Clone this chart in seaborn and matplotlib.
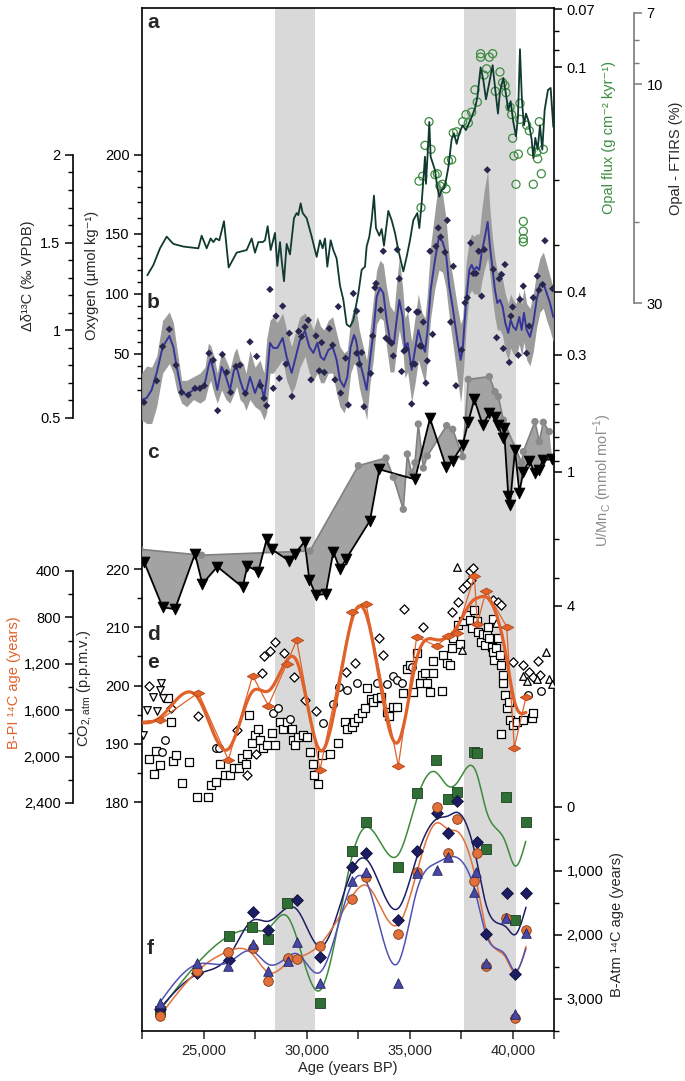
import numpy as np
import matplotlib
matplotlib.use("Agg")
import matplotlib.pyplot as plt
import seaborn as sns
from matplotlib.ticker import FixedLocator, FixedFormatter, NullFormatter
from matplotlib.path import Path

# ---------------- data ----------------
# a) Opal - FTIRS (%)
ftirs_age = [22259,22550,22874,23197,23521,24006,24735,24896,25139,25333,25463,25592,25754,25980,26207,26595,26757,27081,27324,27485,27647,27857,27971,28100,28246,28456,28569,28699,28780,28893,29022,29184,29378,29508,29589,29702,29799,29993,30236,30479,30640,30770,30883,30996,31158,31287,31449,31611,31773,31935,32096,32258,32501,32663,32825,32905,33035,33148,33261,33358,33520,33633,33747,33957,34119,34281,34443,34685,34847,35009,35171,35365,35462,35575,35656,35737,35785,35866,35947,36012,36222,36336,36433,36546,36659,36756,36870,37031,37145,37274,37403,37565,37727,38002,38164,38277,38439,38569,38698,38827,39021,39151,39280,39377,39539,39636,39782,39895,40024,40154,40251,40348,40445,40542,40639,40752,40914,40995,41092,41205,41319,41432,41545,41707,41837,41966]
ftirs_val = [26.1,24.8,22.8,21.5,22.3,22.6,22.8,21.4,22.8,21.7,22.1,21.7,21.9,19.9,25.1,23.3,23.2,23.0,21.7,23.3,22.1,22.1,21.9,20.4,23.0,21.1,24.9,22.1,24.2,26.9,22.3,23.5,19.6,19.1,19.3,18.2,19.1,19.6,21.5,23.8,21.9,22.8,21.7,25.0,21.9,23.0,24.0,27.5,29.5,33.4,33.8,32.7,28.6,25.4,25.0,22.6,21.5,19.8,17.5,20.6,21.4,20.7,22.5,18.9,19.8,21.1,23.0,25.6,23.8,21.9,19.8,19.1,20.6,18.2,16.2,14.4,16.5,14.2,12.1,14.4,15.4,16.8,17.6,17.0,16.9,16.2,15.2,13.2,12.8,13.5,12.8,12.3,12.6,11.8,11.3,10.7,9.2,9.8,10.8,10.1,9.1,10.3,11.6,10.4,9.7,10.3,11.4,10.9,12.1,13.0,11.8,8.4,10.9,12.3,11.6,12.0,13.2,14.5,13.1,13.9,12.3,13.9,11.4,10.3,10.2,12.4]

# a) Opal flux (g cm-2 kyr-1)
opal_age = [35446,35624,35543,35737,35931,36028,36222,36336,36465,36594,36756,36870,37031,37112,37274,37565,37727,37840,38002,38164,38277,38439,38439,38730,38860,39021,38601,39377,39151,39507,39620,39669,39863,39944,39993,40057,40268,40348,40348,40154,40510,40510,40510,40510,40672,40801,40914,41157,41205,41286,41384,40995,41481]
opal_flux = [0.202,0.196,0.238,0.162,0.140,0.166,0.194,0.193,0.208,0.206,0.212,0.178,0.177,0.150,0.149,0.140,0.134,0.141,0.132,0.115,0.124,0.092,0.094,0.101,0.094,0.092,0.105,0.103,0.116,0.110,0.112,0.117,0.128,0.134,0.155,0.173,0.171,0.125,0.138,0.206,0.259,0.275,0.288,0.294,0.143,0.148,0.168,0.169,0.176,0.140,0.193,0.206,0.166]

# b) Oxygen (umol/kg) with envelope
o2_age = [21984,22227,22469,22712,23003,23327,23521,23683,23926,24168,24492,24815,25058,25220,25333,25495,25657,25867,26077,26272,26466,26595,26757,26919,27048,27242,27485,27728,27922,28051,28213,28375,28569,28828,29022,29265,29427,29669,29912,30123,30317,30511,30673,30835,31045,31255,31449,31611,31805,31967,32129,32291,
          32388,32549,32711,32905,33067,33229,33391,33553,33714,33876,34038,34232,34362,34491,34653,34766,34896,35090,35252,35413,35575,35737,35850,36012,36222,36417,36594,36756,36918,37080,37306,37468,37565,37727,37889,38002,38115,38245,38374,38488,38617,38779,38892,39021,39135,39248,39377,39507,39636,39782,39895,40024,40154,40316,40429,40542,40672,40834,40995,41157,41319,41481,41643,41804,41966]
o2_val = [11.7,13.3,20,34.2,55.8,65,55.8,39.2,18.3,15.8,20,20.8,25.8,39.2,45.8,34.2,20,39.2,30.8,20,36.7,39.2,28.3,20,17.5,30.8,17.5,28.3,13.3,28.3,59.2,55,55,63.3,47.5,34.2,45,61.7,69.2,55.8,50.8,59.2,47.5,45,53.3,55.8,45,28.3,22.5,30.8,55.8,65.8,
          61.7,45,34.2,20,45,67.5,97.5,105,100.8,78.3,61.7,59.2,78.3,95,80.8,55.8,59.2,36.7,53.3,70,59.2,51.7,67.5,103.3,128.3,147.5,143.3,134.2,105.8,89.2,61.7,45,53.3,92.5,120,124.2,120,122.5,120,134.2,145,157.6,139.2,120,103.3,92.5,95,89.2,75.8,67.5,78.3,72.5,70,80.8,70,84.2,70,64.2,75.8,95,107.5,109.2,100.8,92.5,80.8]
o2_hi = [34,40,39,48,78,85,76,56,28,28,31,34,39,59,57,48,34,53,45,37,51,55,45,42,34,53,39,45,34,62,78,81,76,84,70,56,67,81,84,78,70,81,73,70,78,81,67,56,51,53,78,89,
         88,70,58,45,70,95,120,128,125,105,90,85,110,130,105,80,85,60,80,100,85,80,100,140,165,185,175,160,130,115,90,75,80,125,145,150,148,150,150,165,178,190,165,145,130,118,120,112,100,92,100,95,92,102,92,105,92,88,100,118,130,135,125,115,105]
o2_lo = [-5,-8,-8,6,34,42,34,20,9,6,12,9,12,23,28,17,9,20,12,9,17,23,12,9,3,12,6,3,-5,1,34,34,39,45,28,17,23,39,48,34,28,34,26,26,34,34,17,6,1,9,34,42,
         40,22,10,-5,25,45,75,80,78,55,35,35,55,70,55,30,35,10,25,45,35,25,45,80,105,120,118,105,80,60,30,10,25,70,100,103,100,100,98,110,120,130,115,95,80,70,70,65,52,45,55,50,48,58,48,60,45,40,52,72,85,88,78,70,60]

# b) Delta d13C (permil VPDB)
d13_age = [22097,22712,23003,23327,23650,23926,24249,24573,24815,25026,25252,25463,25673,25899,26110,26304,26563,26757,27016,27242,27566,27760,27922,28051,28213,28375,28505,28666,28828,28990,29152,29281,29605,29750,29912,30074,30204,30446,30608,30721,30851,31093,31255,31368,31530,31643,31886,32016,32258,32420,
           32420,32549,32663,32776,33100,33197,33310,33358,33585,33714,33844,34006,34119,34200,34394,34491,34604,34718,34815,34928,35090,35138,35252,35332,35413,35494,35575,35656,35785,35850,35980,36109,36271,36384,36498,36708,36821,36983,37112,37242,37517,37679,37792,37954,38083,38213,38342,38488,38617,38763,39054,39216,39345,39458,39620,39539,39830,39911,39992,40268,40348,40510,40672,40801,40995,41189,41270,41448,41562,41934]
d13_val = [0.589,0.712,0.907,1.006,0.801,0.646,0.631,0.669,0.669,0.684,0.869,0.830,0.542,0.862,0.760,0.646,0.794,0.801,0.640,0.934,0.851,0.684,0.612,0.570,1.233,0.669,1.081,0.726,1.138,0.807,0.983,0.623,0.994,0.964,1.019,1.058,0.718,0.968,0.769,0.930,0.760,1.010,0.915,0.718,1.135,0.642,0.841,0.574,1.210,1.110,
           0.869,0.807,0.873,0.564,0.754,0.968,1.243,1.267,1.115,1.451,0.955,0.939,0.926,0.854,1.460,1.294,0.765,0.882,0.892,1.119,0.580,0.807,0.807,1.104,1.104,0.911,0.909,1.047,0.699,0.826,1.451,0.977,1.479,1.584,1.532,1.445,1.627,1.047,1.365,0.684,0.888,1.157,1.186,1.498,1.324,1.324,1.451,1.195,1.460,1.915,1.347,0.958,1.294,1.318,1.375,0.896,0.817,1.081,1.133,0.858,1.176,1.252,0.869,1.024,1.186,1.309,1.229,1.261,1.511,1.237]

# c) U/Mn_C (mmol/mol): grey circles and black triangles
umn_grey_age = [21900,24896,30155,32501,33844,34200,34685,34879,35090,35252,35413,35656,35850,36789,37080,37566,37840,38860,39135,39297,39539,40430,40510,41076,41286,41481,41772]
umn_grey_val = [2.23,2.37,2.27,0.941,0.869,1.06,1.476,0.834,1.018,0.912,0.612,0.964,0.851,0.622,0.646,0.857,0.386,0.375,0.438,0.461,0.587,0.912,0.814,0.597,0.734,0.601,0.662]
umn_black_age = [22097,23003,23602,24573,24929,25657,26886,27113,27647,28051,28294,29135,29427,29896,30123,30446,30915,31287,31611,31902,33067,33520,35252,35979,36756,37080,37566,37840,38132,38537,38860,39135,39297,39507,39572,39782,39863,40106,40316,40510,40801,41076,41286,41448,41918]
umn_black_val = [2.536,4.06,4.14,2.34,3.19,2.67,3.30,2.65,2.81,2.01,2.23,2.51,2.33,2.06,3.06,3.58,3.54,2.29,2.74,2.47,1.66,0.977,1.083,0.577,0.950,0.894,0.760,0.597,0.474,0.618,0.548,0.567,0.618,0.709,0.640,1.287,1.41,0.800,1.243,1.001,0.894,1.018,0.984,0.887,0.881]

# d) B-PI 14C age (years)
bpi_age = [21700,22874,24735,26191,27372,28132,29022,29508,30640,32210,32873,34443,35333,36303,36870,37274,38132,38277,38698,39701,40073,40639]
bpi_val = [1700,1684,1449,2029,1302,1561,1202,995,2116,756,684,2081,972,1047,958,932,443,857,570,880,1923,1489]

# e) CO2,atm (ppmv) - several records
co2_sq_age = [22356,22583,22680,22874,23278,23392,23489,23650,23926,24298,24686,25188,25349,25592,25786,26029,26272,26466,26725,26838,27048,27081,27210,27323,27485,27647,27728,27890,28052,28294,28456,28699,28861,29022,29265,29346,29427,29589,29831,29993,30155,30317,30349,30559,30721,31126,31530,31854,31935,32177,32291,32501,32663,32825,32906,33100,33229,33423,33585,33876,34006,34200,34362,34685,34847,35009,35171,35333,35494,35575,35737,35818,35980,36141,36109,36546,36627,36789,36950,37063,37112,37355,37436,37566,37759,37921,38002,38116,38245,38326,38439,38569,38650,38731,38860,38973,39022,39087,39184,39297,39378,39410,39507,39539,39620,39701,39830,39863,39992,40219,40510,40914,40963,39410,39054,38812]
co2_sq_val = [187.4,184.9,188.8,186.4,197.8,193.8,187.0,188.1,183.3,186.8,180.9,180.9,182.9,183.5,186.6,184.7,184.6,185.8,185.8,187.5,186.5,188.2,195.0,190.2,191.5,192.6,190.6,189.2,189.8,191.8,189.8,193.8,192.6,193.8,192.6,190.6,189.8,191.2,191.5,191.2,188.6,186.6,184.6,183.1,188.1,188.2,190.1,193.8,192.6,192.9,193.8,194.5,195.2,196.1,199.5,197.7,197.2,197.9,198.1,195.5,194.8,196.4,196.4,198.7,202.9,203.5,198.9,205.5,200.4,201.8,202.1,200.4,198.9,202.1,204.2,199.1,205.2,203.8,203.5,206.4,208.1,210.4,207.2,211.0,212.1,211.2,209.8,213.0,211.0,209.2,207.5,208.9,206.9,208.7,208.1,206.7,205.8,204.4,206.4,208.1,205.2,203.5,200.4,201.8,198.4,196.1,197.2,194.1,193.2,193.8,194.1,194.5,195.2,191.6,211.5,210.1]
co2_ci_age = [23117,22955,25592,25754,28343,28586,29184,30770,31287,31563,31935,32420,33423,33876,34200,34362,34637,35122,40720,41367]
co2_ci_val = [190.6,188.6,189.2,189.3,195.2,196.2,194.2,193.6,196.9,199.8,199.2,200.5,200.4,200.2,201.7,200.9,200.5,203.1,198.4,199.1]
co2_di_age = [22356,23392,24735,26628,27081,27534,27809,27922,28213,28456,28893,29378,29912,30430,31886,32339,33520,33682,34734,35656,37031,37355,37598,37759,37921,38051,37953,39054,39297,39410,39992,40478,40801,41238,40963,41318]
co2_di_val = [199.9,196.1,194.8,192.4,184.6,188.2,202.1,205.1,205.9,207.5,205.6,201.5,197.6,195.6,202.4,203.8,208.2,205.3,213.1,210.1,212.7,214.4,216.7,217.4,219.7,220.2,218.1,214.7,214.3,213.8,204.0,203.5,202.4,204.2,201.5,201.8]
co2_tu_age = [37274,39184,37517,40510,41157,41610,41772,41886,40704]
co2_tu_val = [220.4,210.7,206.1,201.7,201.2,205.7,201.2,200.2,200.8]
co2_td_age = [22906,22874,23003,22550,22227,22712,22032]
co2_td_val = [200.4,199.2,197.8,198.1,195.8,195.6,191.5]

# f) B-Atm 14C age (years), four records
batm_sq_age = [22870,26200,27360,28130,29050,30635,32200,32875,34445,35345,36271,36855,37300,38115,38285,38715,39655,40095,40627]
batm_sq_val = [3180,2020,1870,2055,1500,3057,680,230,933,-216,-734,-130,-229,-864,-839,661,-161,1766,230]
batm_di_age = [22870,24690,26240,27370,28130,29520,30660,32210,32873,34443,35333,36303,36870,37307,38277,38683,39703,40106,40639]
batm_di_val = [3150,2590,2390,1636,1922,1453,2345,938,714,1767,688,89,400,-94,552,1984,1349,2610,1349]
batm_ci_age = [22874,24686,26191,27372,28132,29071,29508,30640,32210,32873,34443,35333,36303,36870,37307,38132,38277,38698,39669,40106,40639]
batm_ci_val = [3265,2562,2271,2208,2713,2364,2380,2172,1443,1088,1984,1010,7,714,193,1151,714,2484,1729,3302,1922]
batm_tr_age = [22874,24686,26191,27372,28132,29071,29508,30640,32210,32873,34443,35333,36303,36870,38132,38213,38698,39669,40106,40639]
batm_tr_val = [3057,2432,2484,2140,2570,2401,2104,2745,1151,1010,2745,1036,984,776,1323,1010,2432,1740,3234,1974]

# shaded intervals (years BP)
band_starts = [28480, 37650]
band_ends = [30420, 40150]

# ---------------- helpers ----------------
def smooth(x, y, lam, n=400):
    """Penalised (spline-like) smoothing of the points on a fine grid."""
    x = np.asarray(x, float)
    y = np.asarray(y, float)
    g = np.linspace(x.min(), x.max(), n)
    h = g[1] - g[0]
    idx = np.clip(((x - g[0]) // h).astype(int), 0, n - 2)
    t = (x - g[idx]) / h
    A = np.zeros((len(x), n))
    A[np.arange(len(x)), idx] = 1 - t
    A[np.arange(len(x)), idx + 1] = t
    D = np.diff(np.eye(n), 2, axis=0)
    f = np.linalg.solve(A.T @ A + lam * D.T @ D, A.T @ y)
    return g, f

sns.set_style("white")
plt.rcParams["font.family"] = ["Liberation Sans", "DejaVu Sans"]
plt.rcParams["mathtext.fontset"] = "custom"
plt.rcParams["mathtext.rm"] = "Liberation Sans"

W, H = 685, 1081
L, R, T, B = 142, 554, 8, 1031
fig = plt.figure(figsize=(W / 100, H / 100), dpi=100)
ax = fig.add_axes([L / W, 1 - B / H, (R - L) / W, (B - T) / H])
ax.set_ylim(0, 1)
ax.set_yticks([])
for s in ax.spines.values():
    s.set_visible(True)
    s.set_color("black")
    s.set_linewidth(1.2)
for a0, a1 in zip(band_starts, band_ends):
    ax.axvspan(a0, a1, color="#d9d9d9", lw=0, zorder=0)


def make_twin(side, pos, bounds, major, labels, minor, scale=None, ylim=None,
              spine_color="black"):
    t = ax.twinx()
    for s in t.spines.values():
        s.set_visible(False)
    if scale is not None:
        if isinstance(scale, tuple):
            t.set_yscale("function", functions=scale)
        else:
            t.set_yscale(scale)
    t.set_ylim(*ylim)
    if side == "left":
        t.yaxis.tick_left()
    else:
        t.yaxis.tick_right()
    if pos is not None:
        sp = t.spines[side]
        sp.set_visible(True)
        sp.set_position(("axes", pos))
        sp.set_bounds(*bounds)
        sp.set_color(spine_color)
        sp.set_linewidth(1.2)
    t.yaxis.set_major_locator(FixedLocator(major))
    t.yaxis.set_major_formatter(FixedFormatter(labels))
    t.yaxis.set_minor_locator(FixedLocator(minor))
    t.yaxis.set_minor_formatter(NullFormatter())
    t.tick_params(axis="y", which="major", length=6, width=1.1, labelsize=10.5,
                  pad=3, color=spine_color, labelcolor="black")
    t.tick_params(axis="y", which="minor", length=3.5, width=1.0, color=spine_color)
    return t

off_left = (73 - L) / (R - L)
off_right = (634 - L) / (R - L)

# c) U/Mn  (inverted log, right spine)
t_umn = make_twin("right", None, None, [0.3, 1, 4], ["0.3", "1", "4"],
                  [0.4, 0.5, 0.6, 0.7, 0.8, 0.9, 2, 3], scale="log", ylim=(322.5, 0.00834))
t_umn.fill(np.r_[umn_grey_age, umn_black_age[::-1]], np.r_[umn_grey_val, umn_black_val[::-1]],
           color="#a3a3a3", lw=0, zorder=1)
sns.lineplot(x=umn_grey_age, y=umn_grey_val, ax=t_umn, color="#808080", lw=1.2,
             sort=False, estimator=None, zorder=2)
sns.lineplot(x=umn_black_age, y=umn_black_val, ax=t_umn, color="black", lw=1.3,
             sort=False, estimator=None, zorder=3)
sns.scatterplot(x=umn_grey_age, y=umn_grey_val, ax=t_umn, color="#8a8a8a", s=28,
                edgecolor="none", zorder=4)
sns.scatterplot(x=umn_black_age, y=umn_black_val, ax=t_umn, marker="v", color="black",
                s=60, edgecolor="black", zorder=5)

# e) CO2 (left main spine)
t_co2 = make_twin("left", None, None, [180, 190, 200, 210, 220],
                  ["180", "190", "200", "210", "220"], [185, 195, 205, 215],
                  ylim=(140.7, 316.3))
for xa, ya, mk in [(co2_sq_age, co2_sq_val, "s"), (co2_ci_age, co2_ci_val, "o"),
                   (co2_di_age, co2_di_val, "D"), (co2_tu_age, co2_tu_val, "^"),
                   (co2_td_age, co2_td_val, "v")]:
    sns.scatterplot(x=xa, y=ya, ax=t_co2, marker=mk, s=30 if mk != "D" else 22,
                    facecolor="white", edgecolor="black", linewidth=0.9, zorder=3)

# d) B-PI 14C age (inverted linear, outer left spine)
t_bpi = make_twin("left", off_left, (400, 2400), [400, 800, 1200, 1600, 2000, 2400],
                  ["400", "800", "1,200", "1,600", "2,000", "2,400"],
                  [600, 1000, 1400, 1800, 2200], ylim=(4366, -4453))
orange = "#e0622a"
sns.lineplot(x=bpi_age, y=bpi_val, ax=t_bpi, color=orange, lw=0.9, sort=False,
             estimator=None, zorder=3)
gx, gy = smooth(bpi_age, bpi_val, 250)
sns.lineplot(x=gx, y=gy, ax=t_bpi, color=orange, lw=2.3, sort=False, estimator=None, zorder=4)
diamond = Path([(-1, 0), (0, 0.55), (1, 0), (0, -0.55), (-1, 0)], closed=True)
sns.scatterplot(x=bpi_age, y=bpi_val, ax=t_bpi, marker=diamond, s=80, color=orange,
                edgecolor="#b5471a", linewidth=0.6, zorder=5)

# f) B-Atm 14C age (inverted linear, right spine)
t_batm = make_twin("right", None, None, [0, 1000, 2000, 3000],
                   ["0", "1,000", "2,000", "3,000"], [500, 1500, 2500, 3500],
                   ylim=(3500, -12484))
series_f = [
    (batm_sq_age, batm_sq_val, "s", "#2f6f35", "#1d401f", "#3d8a3d"),
    (batm_di_age, batm_di_val, "D", "#1d1d63", "#0f0f33", "#1d1d63"),
    (batm_ci_age, batm_ci_val, "o", "#e2703a", "#7a3a15", "#e2703a"),
    (batm_tr_age, batm_tr_val, "^", "#4747a8", "#25255e", "#5151b5"),
]
for xa, ya, mk, fc, ec, lc in series_f:
    sx, sy = smooth(xa, ya, 350)
    sns.lineplot(x=sx, y=sy, ax=t_batm, color=lc, lw=1.1, sort=False, estimator=None, zorder=3)
for xa, ya, mk, fc, ec, lc in series_f:
    sns.scatterplot(x=xa, y=ya, ax=t_batm, marker=mk, s=48 if mk != "D" else 36,
                    color=fc, edgecolor=ec, linewidth=0.6, zorder=4)

# b) Oxygen (nonlinear calibrated axis, left main spine)
o2_knots = [-1000, 50, 100, 150, 200, 2000]
o2_pix = [1614, 354, 294, 234, 155, -2689]


def o2_fwd(v):
    return -np.interp(v, o2_knots, o2_pix)


def o2_inv(v):
    return np.interp(-np.asarray(v), o2_pix[::-1], o2_knots[::-1])


t_o2 = make_twin("left", None, None, [50, 100, 150, 200], ["50", "100", "150", "200"],
                 [v for v in range(20, 200, 10) if v % 50], scale=(o2_fwd, o2_inv),
                 ylim=(-514.2, 293.0))
t_o2.fill_between(o2_age, o2_lo, o2_hi, color="#9c9c9c", lw=0, zorder=1)
sns.lineplot(x=o2_age, y=o2_val, ax=t_o2, color="#36369a", lw=1.4, sort=False,
             estimator=None, zorder=2)

# b) Delta d13C (outer left spine)
t_d13 = make_twin("left", off_left, (0.5, 2.0), [0.5, 1, 1.5, 2], ["0.5", "1", "1.5", "2"],
                  [0.6, 0.7, 0.8, 0.9, 1.1, 1.2, 1.3, 1.4, 1.6, 1.7, 1.8, 1.9],
                  ylim=(-2.996, 2.838))
sns.scatterplot(x=d13_age, y=d13_val, ax=t_d13, marker="D", s=14, color="#26264f",
                edgecolor="none", zorder=3)

# a) Opal flux (inverted log, right spine)
t_opf = make_twin("right", None, None, [0.07, 0.1, 0.4], ["0.07", "0.1", "0.4"],
                  [0.08, 0.09, 0.2, 0.3], scale="log", ylim=(38.3, 0.0694))
sns.scatterplot(x=opal_age, y=opal_flux, ax=t_opf, marker="o", s=34, facecolor="none",
                edgecolor="#3d8c40", linewidth=0.9, zorder=3)

# a) Opal FTIRS (inverted log, outer right spine)
t_ft = make_twin("right", off_right, (7, 30), [7, 10, 30], ["7", "10", "30"], [8, 9, 20],
                 scale="log", ylim=(1156, 6.83), spine_color="#7a7a7a")
sns.lineplot(x=ftirs_age, y=ftirs_val, ax=t_ft, color="#103a30", lw=1.3, sort=False,
             estimator=None, zorder=4)

# ---------------- x axis ----------------
ax.set_xlim(22000, 42000)
ax.xaxis.set_major_locator(FixedLocator([25000, 30000, 35000, 40000]))
ax.xaxis.set_major_formatter(FixedFormatter(["25,000", "30,000", "35,000", "40,000"]))
ax.xaxis.set_minor_locator(FixedLocator([22000, 27500, 32500, 37500, 42000]))
ax.tick_params(axis="x", which="both", direction="out", length=6, width=1.1,
               labelsize=10.5, bottom=True)
ax.set_xlabel("")
for t in [t_umn, t_co2, t_bpi, t_batm, t_o2, t_d13, t_opf, t_ft]:
    t.set_xlim(22000, 42000)
    t.set_ylabel("")
    t.set_xlabel("")

# ---------------- text ----------------
def ftext(px, py, s, **kw):
    fig.text(px / W, 1 - py / H, s, ha="center", va="center", fontsize=10.5, **kw)

ftext(348, 1068, "Age (years BP)")
ftext(28, 276, "Δδ¹³C (‰ VPDB)", rotation=90)
ftext(92, 275, "Oxygen (µmol kg⁻¹)", rotation=90)
ftext(14, 683, "B-PI ¹⁴C age (years)", rotation=90, color=orange)
ftext(85, 688, r"CO$_{\mathregular{2,atm}}$ (p.p.m.v.)", rotation=90)
ftext(609, 138, "Opal flux (g cm⁻² kyr⁻¹)", rotation=90, color="#3d8c40")
ftext(676, 158, "Opal - FTIRS (%)", rotation=90)
ftext(603, 480, r"U/Mn$_{\mathregular{C}}$ (mmol mol$^{\mathregular{-1}}$)", rotation=90,
      color="#8c8c8c")
ftext(617, 925, "B-Atm ¹⁴C age (years)", rotation=90)

for letter, py in [("a", 22), ("b", 302), ("c", 452), ("d", 634), ("e", 662), ("f", 948)]:
    ax.text(0.012, (B - py) / (B - T), letter, transform=ax.transAxes, fontsize=15,
            fontweight="bold", ha="left", va="center", zorder=10)

fig.savefig("out.png", dpi=100)
